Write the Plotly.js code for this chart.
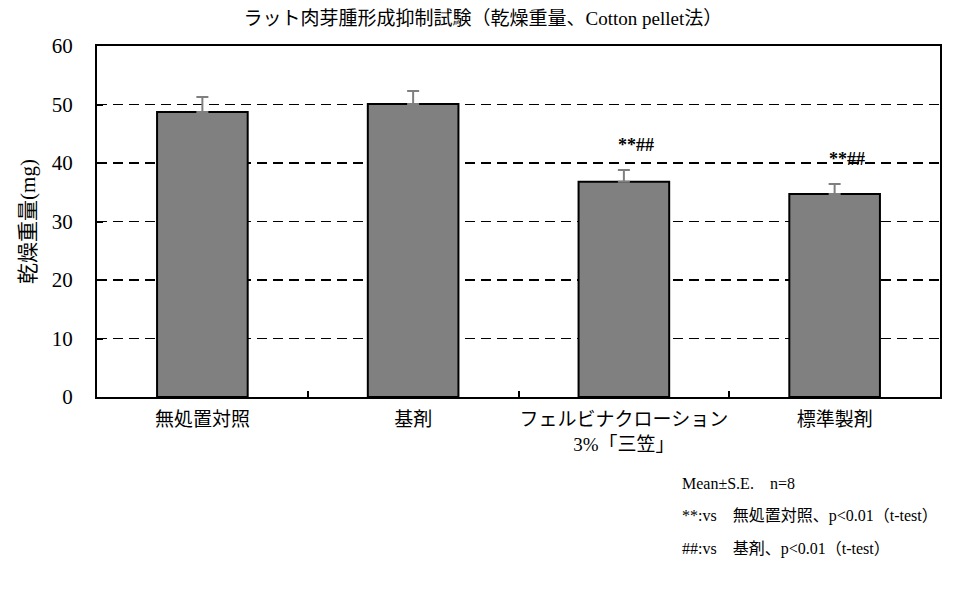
<!DOCTYPE html>
<html>
<head>
<meta charset="utf-8">
<script src="https://cdn.plot.ly/plotly-3.0.1.min.js"></script>
<style>html,body{margin:0;padding:0;background:#fff;}#chart{width:960px;height:601px;}</style>
</head>
<body>
<div id="chart"></div>
<script>
const categories = ["無処置対照", "基剤", "フェルビナクローション<br>3%「三笠」", "標準製剤"];
const means = [48.7, 50.1, 36.8, 34.7];
const errors = [2.6, 2.2, 2.0, 1.7];
const marks = ["", "", "**##", "**##"];
const yTicks = [0, 10, 20, 30, 40, 50, 60];
const notes = ["Mean±S.E.　n=8", "**:vs　無処置対照、p<0.01（t-test）", "##:vs　基剤、p<0.01（t-test）"];

const FONT = "Liberation Serif, Noto Sans CJK JP, serif";

const trace = {
  type: "bar",
  x: categories,
  y: means,
  marker: {color: "#808080", line: {color: "#000", width: 2}},
  width: 0.43,
  error_y: {type: "data", array: errors, arrayminus: errors.map(() => 0), symmetric: false,
            color: "#7f7f7f", thickness: 2, width: 6},
  hoverinfo: "none"
};

const annotations = [];
marks.forEach((m, i) => {
  if (!m) return;
  annotations.push({x: categories[i], y: means[i] + errors[i], xref: "x", yref: "y",
    text: "<b>" + m + "</b>", showarrow: false, yshift: 25, xshift: 12,
    font: {family: FONT, size: 18, color: "#000"}});
});
const L = 97, R = 20, T = 46, B = 204, W = 960, H = 601;
notes.forEach((t, i) => {
  annotations.push({x: (680 - L) / (W - L - R), y: 1 - (483 + i * 33 - T) / (H - T - B),
    xref: "paper", yref: "paper", text: t,
    showarrow: false, xanchor: "left", yanchor: "middle",
    font: {family: FONT, size: 16, color: "#000"}});
});

const layout = {
  width: W, height: H,
  margin: {l: L, r: R, t: T, b: B},
  paper_bgcolor: "#fff", plot_bgcolor: "#fff",
  font: {family: FONT, size: 18, color: "#000"},
  title: {text: "ラット肉芽腫形成抑制試験（乾燥重量、Cotton pellet法）", x: 0.503, xanchor: "center",
          y: 0.97, yanchor: "middle", font: {family: FONT, size: 19, color: "#000"}},
  showlegend: false,
  xaxis: {type: "category", tickson: "boundaries", ticks: "inside", ticklen: 6, tickwidth: 2,
          tickcolor: "#000", showline: true, linecolor: "#000", linewidth: 2, mirror: true,
          ticklabelstandoff: 4, tickangle: 0,
          showgrid: false, tickfont: {family: FONT, size: 19, color: "#000"}, fixedrange: true},
  yaxis: {range: [0, 60], tickvals: yTicks, ticktext: yTicks.map(String), ticks: "inside",
          ticklen: 6, tickwidth: 2, tickcolor: "#000", showline: true, linecolor: "#000", linewidth: 2,
          mirror: true, showgrid: true, gridcolor: "#000", gridwidth: 1.5, griddash: "10px,6px",
          ticklabelstandoff: 18,
          zeroline: false, tickfont: {family: FONT, size: 21, color: "#000"},
          title: {text: "乾燥重量(mg)", standoff: 10, font: {family: FONT, size: 21, color: "#000"}}},
  annotations: annotations
};

Plotly.newPlot("chart", [trace], layout, {displayModeBar: false, staticPlot: true});
</script>
</body>
</html>
